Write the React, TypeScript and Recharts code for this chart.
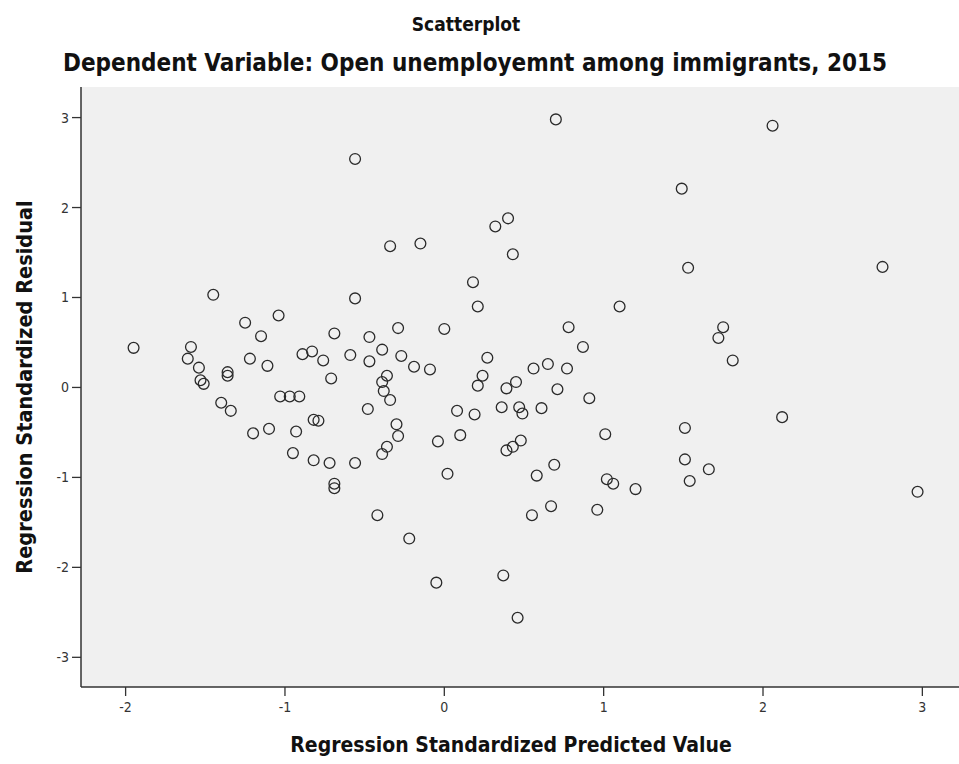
import React from "react";
import { ScatterChart, Scatter, XAxis, YAxis, CartesianGrid } from "recharts";

const predicted = [
  -1.95, -1.59, -1.61, -1.54, -1.53, -1.51, -1.45, -1.40, -1.36, -1.36, -1.34, -1.25, -1.22, -1.20, -1.15,
  -1.11, -1.10, -1.04, -1.03, -0.97, -0.95, -0.93, -0.91, -0.89, -0.83, -0.82, -0.82, -0.79, -0.76, -0.72,
  -0.71, -0.69, -0.69, -0.69, -0.59, -0.56, -0.56, -0.56, -0.48, -0.47, -0.47, -0.42, -0.39, -0.39, -0.39,
  -0.38, -0.36, -0.36, -0.34, -0.34, -0.30, -0.29, -0.29, -0.27, -0.22, -0.19, -0.15, -0.09, -0.05, -0.04,
  0.0, 0.02, 0.08, 0.10, 0.18, 0.19, 0.21, 0.21, 0.24, 0.27, 0.32, 0.36, 0.37, 0.39, 0.39,
  0.40, 0.43, 0.43, 0.45, 0.46, 0.47, 0.48, 0.49, 0.55, 0.56, 0.58, 0.61, 0.65, 0.67, 0.69,
  0.70, 0.71, 0.77, 0.78, 0.87, 0.91, 0.96, 1.01, 1.02, 1.06, 1.10, 1.20, 1.49, 1.51, 1.51,
  1.53, 1.54, 1.66, 1.72, 1.75, 1.81, 2.06, 2.12, 2.75, 2.97,
];

const residual = [
  0.44, 0.45, 0.32, 0.22, 0.08, 0.04, 1.03, -0.17, 0.17, 0.13, -0.26, 0.72, 0.32, -0.51, 0.57,
  0.24, -0.46, 0.80, -0.10, -0.10, -0.73, -0.49, -0.10, 0.37, 0.40, -0.36, -0.81, -0.37, 0.30, -0.84,
  0.10, 0.60, -1.07, -1.12, 0.36, 2.54, 0.99, -0.84, -0.24, 0.56, 0.29, -1.42, 0.42, 0.06, -0.74,
  -0.04, 0.13, -0.66, 1.57, -0.14, -0.41, 0.66, -0.54, 0.35, -1.68, 0.23, 1.60, 0.20, -2.17, -0.60,
  0.65, -0.96, -0.26, -0.53, 1.17, -0.30, 0.90, 0.02, 0.13, 0.33, 1.79, -0.22, -2.09, -0.01, -0.70,
  1.88, 1.48, -0.66, 0.06, -2.56, -0.22, -0.59, -0.29, -1.42, 0.21, -0.98, -0.23, 0.26, -1.32, -0.86,
  2.98, -0.02, 0.21, 0.67, 0.45, -0.12, -1.36, -0.52, -1.02, -1.07, 0.90, -1.13, 2.21, -0.45, -0.80,
  1.33, -1.04, -0.91, 0.55, 0.67, 0.30, 2.91, -0.33, 1.34, -1.16,
];

const xTicks = [-2, -1, 0, 1, 2, 3];
const yTicks = [-3, -2, -1, 0, 1, 2, 3];

const title = "Scatterplot";
const subtitle = "Dependent Variable: Open unemployemnt among immigrants, 2015";
const xTitle = "Regression Standardized Predicted Value";
const yTitle = "Regression Standardized Residual";

const data = predicted.map((x, i) => ({ x, y: residual[i] }));

const FONT = "'DejaVu Sans Condensed', 'DejaVu Sans', sans-serif";

const Ring = (props: any) => {
  const { cx, cy } = props;
  if (cx == null || cy == null) return null;
  return <circle cx={cx} cy={cy} r={5.4} fill="none" stroke="#2a2a2a" strokeWidth={1.3} />;
};

const tickStyle = { fill: "#333", fontSize: 14, fontFamily: FONT };

export default function App() {
  return (
    <div style={{ position: "fixed", left: 0, top: 0, width: 959, height: 764, background: "#fff" }}>
      <ScatterChart
        width={959}
        height={764}
        margin={{ top: 87, right: 0, bottom: 37, left: 0 }}
      >
        <CartesianGrid fill="#f0f0f0" horizontal={false} vertical={false} />
        <XAxis
          type="number"
          dataKey="x"
          domain={[-2.28, 3.23]}
          ticks={xTicks}
          allowDataOverflow
          height={40}
          tickSize={9}
          tickMargin={6}
          axisLine={{ stroke: "#333", strokeWidth: 1.5 }}
          tickLine={{ stroke: "#333", strokeWidth: 1.3 }}
          tick={tickStyle}
        />
        <XAxis
          xAxisId="top"
          orientation="top"
          type="number"
          dataKey="x"
          domain={[-2.28, 3.23]}
          allowDataOverflow
          height={0}
          tick={false}
          tickLine={false}
          axisLine={{ stroke: "#444", strokeWidth: 1.5 }}
        />
        <YAxis
          type="number"
          dataKey="y"
          domain={[-3.33, 3.34]}
          ticks={yTicks}
          allowDataOverflow
          width={81}
          tickSize={9}
          tickMargin={3}
          axisLine={{ stroke: "#333", strokeWidth: 1.5 }}
          tickLine={{ stroke: "#333", strokeWidth: 1.3 }}
          tick={tickStyle}
        />
        <Scatter data={data} shape={Ring} isAnimationActive={false} />
      </ScatterChart>
      <svg
        width={959}
        height={764}
        style={{ position: "absolute", left: 0, top: 0, pointerEvents: "none" }}
      >
        <text x={466} y={31} textAnchor="middle" fontFamily={FONT} fontWeight="bold" fontSize={19} fill="#111">
          {title}
        </text>
        <text x={475} y={71} textAnchor="middle" fontFamily={FONT} fontWeight="bold" fontSize={24} fill="#111">
          {subtitle}
        </text>
        <text x={511} y={752} textAnchor="middle" fontFamily={FONT} fontWeight="bold" fontSize={21} fill="#111">
          {xTitle}
        </text>
        <text
          x={0}
          y={0}
          transform="translate(32 387) rotate(-90)"
          textAnchor="middle"
          fontFamily={FONT}
          fontWeight="bold"
          fontSize={21.5}
          fill="#111"
        >
          {yTitle}
        </text>
      </svg>
    </div>
  );
}
